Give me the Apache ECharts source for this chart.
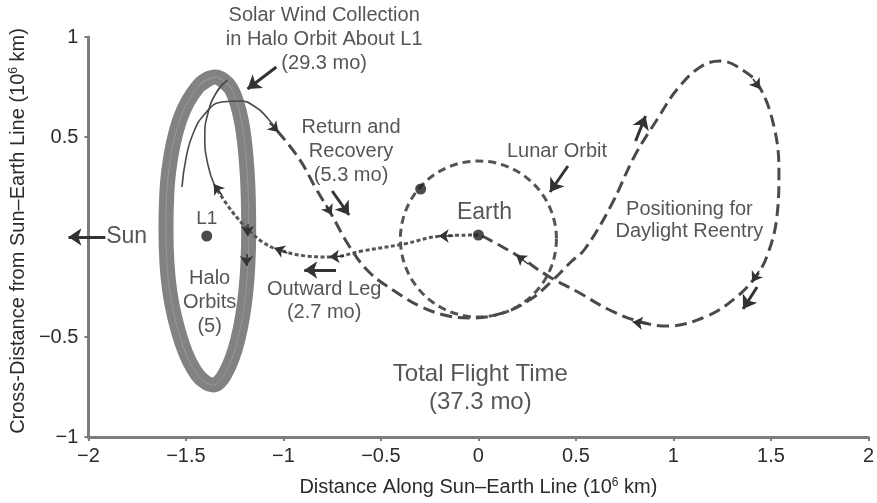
<!DOCTYPE html>
<html><head><meta charset="utf-8">
<script src="https://cdn.jsdelivr.net/npm/echarts@6/dist/echarts.min.js"></script>
<style>html,body{margin:0;padding:0;background:#fff}#c{width:877px;height:503px}</style>
</head><body><div id="c"></div>
<script>
// ---- axis ticks ----
const xTickLabels = ['−2','−1.5','−1','−0.5','0','0.5','1','1.5','2'];
const yTickLabels = ['−1','−0.5','','0.5','1'];

// ---- trajectories (10^6 km) ----
// halo orbit band, read around the loop (first points repeated at the end so the loop closes smoothly)
const haloOrbit = [[-1.435,0.755],[-1.35,0.80],[-1.27,0.745],[-1.215,0.578],[-1.186,0.327],[-1.178,0.03],[-1.192,-0.267],[-1.235,-0.518],[-1.30,-0.686],[-1.36,-0.74],[-1.44,-0.69],[-1.52,-0.53],[-1.583,-0.27],[-1.602,0.03],[-1.588,0.33],[-1.53,0.59],[-1.435,0.755],[-1.35,0.80],[-1.27,0.745]];
const outwardLeg = [[0,0.01],[-0.189,0.005],[-0.383,-0.035],[-0.597,-0.07],[-0.755,-0.10],[-0.883,-0.095],[-1.036,-0.06],[-1.107,-0.025],[-1.184,0.04],[-1.265,0.13],[-1.352,0.255]];
const haloInsertion = [[-1.352,0.255],[-1.388,0.365],[-1.403,0.50],[-1.388,0.615],[-1.342,0.725],[-1.286,0.785]];
const haloDeparture = [[-1.520,0.25],[-1.500,0.39],[-1.464,0.515],[-1.403,0.615],[-1.316,0.675],[-1.224,0.68],[-1.143,0.65],[-1.082,0.595],[-1.031,0.53]];
const returnLeg = [[-1.031,0.53],[-0.918,0.39],[-0.832,0.24],[-0.755,0.115],[-0.663,-0.045],[-0.561,-0.175],[-0.423,-0.275],[-0.291,-0.35],[-0.153,-0.395],[-0.036,-0.405],[0.138,-0.375],[0.270,-0.31],[0.372,-0.225],[0.474,-0.125],[0.546,-0.06],[0.679,0.155],[0.801,0.405],[0.918,0.59],[1.020,0.74],[1.138,0.85],[1.240,0.88],[1.362,0.83],[1.439,0.755],[1.515,0.555],[1.541,0.325],[1.531,0.105],[1.480,-0.095],[1.413,-0.21],[1.311,-0.31],[1.173,-0.395],[0.969,-0.445],[0.816,-0.42],[0.663,-0.36],[0.510,-0.275],[0.357,-0.195],[0.204,-0.095],[0.087,-0.03],[0.02,0.005]];
const lunarOrbit = [[0, -0.01, 0.395]]; // centre x, centre y, radius
const bodies = [[0, 0.01], [-0.296, 0.24], [-1.393, 0.005]]; // Earth, Moon, L1

// direction arrows on the paths: [from, to]
const pathArrows = [
  [[-1.071,0.57],[-1.025,0.525]], [[-0.781,0.16],[-0.752,0.11]],
  [[1.408,0.79],[1.444,0.74]], [[1.439,-0.17],[1.403,-0.225]],
  [[0.867,-0.435],[0.791,-0.425]], [[0.255,-0.135],[0.194,-0.09]],
  [[-0.128,0.005],[-0.204,0.005]], [[-0.689,-0.095],[-0.765,-0.10]],
  [[-0.980,-0.08],[-1.046,-0.055]], [[-1.316,0.21],[-1.357,0.265]],
  [[-1.184,0.065],[-1.184,0.005]], [[-1.189,-0.085],[-1.189,-0.145]]
];
// callout arrows: [from, to]
const calloutArrows = [
  [[-1.036,0.85],[-1.184,0.74]], [[-0.750,0.23],[-0.663,0.11]],
  [[-0.730,-0.165],[-0.893,-0.165]], [[0.459,0.355],[0.367,0.225]],
  [[0.806,0.48],[0.857,0.605]], [[1.429,-0.25],[1.357,-0.36]],
  [[-1.913,0],[-2.102,0]]
];
// annotation texts and anchors
const noteTexts = ['Solar Wind Collection\nin Halo Orbit About L1\n(29.3 mo)','Return and\nRecovery\n(5.3 mo)','L1','Halo\nOrbits\n(5)','Outward Leg\n(2.7 mo)','Earth','Lunar Orbit','Positioning for\nDaylight Reentry','Total Flight Time\n(37.3 mo)','Sun'];
const noteAnchors = [[-0.791,0.99],[-0.653,0.43],[-1.393,0.09],[-1.378,-0.325],[-0.791,-0.3175],[0.031,0.12],[0.403,0.43],[1.082,0.085],[0.01,-0.755],[-1.804,0.0]];
const noteSizes = [20,20,19,20,20,23,20,20,24,23];
const noteLineHeights = [24,24,22,24,23,26,22,22,28,26];

const FONT = '"Liberation Sans", Arial, Helvetica, sans-serif';
const TXT = '#2b2b2b';
const chart = echarts.init(document.getElementById('c'), null, {renderer:'canvas'});

const lineSeries = (data, style, smooth, z) => ({
  type:'line', data, showSymbol:false, symbol:'none', smooth: smooth, silent:true, z:z||2,
  lineStyle: style, animation:false
});

chart.setOption({
  animation:false,
  grid:{left:88, right:5, top:37, bottom:66, containLabel:false},
  xAxis:{
    type:'value', min:-2, max:2, interval:0.5,
    axisLine:{show:true, onZero:false, lineStyle:{color:'#7d7d7d', width:3}},
    axisTick:{show:true, length:4, lineStyle:{color:'#7d7d7d', width:2}},
    splitLine:{show:false},
    axisLabel:{fontSize:20, color:TXT, fontFamily:FONT, margin:9,
      formatter:(v)=>xTickLabels[Math.round((v+2)/0.5)]},
    name:'Distance Along Sun–Earth Line (10{sup|6} km)', nameLocation:'middle', nameGap:40,
    nameTextStyle:{fontSize:20, color:TXT, fontFamily:FONT,
      rich:{sup:{fontSize:12, color:TXT, fontFamily:FONT, verticalAlign:'top'}}}
  },
  yAxis:{
    type:'value', min:-1, max:1, interval:0.5,
    axisLine:{show:true, onZero:false, lineStyle:{color:'#7d7d7d', width:3}},
    axisTick:{show:true, length:4, lineStyle:{color:'#7d7d7d', width:2}},
    splitLine:{show:false},
    axisLabel:{fontSize:20, color:TXT, fontFamily:FONT, margin:10,
      formatter:(v)=>yTickLabels[Math.round((v+1)/0.5)]},
    name:'Cross-Distance from Sun–Earth Line (10{sup|6} km)', nameLocation:'middle', nameGap:53,
    nameTextStyle:{fontSize:20, color:TXT, fontFamily:FONT, padding:[0,0,0,12],
      rich:{sup:{fontSize:12, color:TXT, fontFamily:FONT, verticalAlign:'top'}}}
  },
  series:[
    lineSeries(haloOrbit, {color:'#828282', width:15}, 0.35, 1),
    lineSeries(haloOrbit, {color:'#979797', width:1}, 0.35, 1),
    lineSeries(haloInsertion, {color:'#4a4a4a', width:1.6}, 0.5, 3),
    lineSeries(haloDeparture, {color:'#4a4a4a', width:1.6}, 0.5, 3),
    lineSeries(outwardLeg, {color:'#555', width:3, type:[4,2.5]}, 0.4, 3),
    lineSeries(returnLeg, {color:'#4a4a4a', width:3, type:[12,6]}, 0.4, 3),
    {
      type:'custom', silent:true, z:2, data:lunarOrbit,
      renderItem:(params, api)=>{
        const c = api.coord([api.value(0), api.value(1)]);
        const s = api.size([api.value(2), api.value(2)]);
        return {type:'circle', shape:{cx:c[0], cy:c[1], r:(s[0]+s[1])/2},
          style:{fill:'none', stroke:'#555', lineWidth:3, lineDash:[8,5]}};
      }
    },
    {type:'scatter', data:bodies, symbol:'circle', symbolSize:11, itemStyle:{color:'#1e1e1e'}, silent:true, z:5},
    {type:'lines', coordinateSystem:'cartesian2d', clip:false, silent:true, z:6,
      symbol:['none','arrow'], symbolSize:[0,10],
      lineStyle:{color:'#333', width:1.5, opacity:1, curveness:0},
      data:pathArrows.map(a=>({coords:a}))},
    {type:'lines', coordinateSystem:'cartesian2d', clip:false, silent:true, z:6,
      symbol:['none','arrow'], symbolSize:[0,13],
      lineStyle:{color:'#333', width:3, opacity:1, curveness:0},
      data:calloutArrows.map(a=>({coords:a}))},
    {type:'scatter', symbolSize:0, silent:true, z:8,
      data:noteTexts.map((t,i)=>({value:noteAnchors[i],
        label:{formatter:t, fontSize:noteSizes[i], lineHeight:noteLineHeights[i]}})),
      label:{show:true, position:'inside', color:TXT, fontFamily:FONT, align:'center'}}
  ]
});
</script></body></html>
